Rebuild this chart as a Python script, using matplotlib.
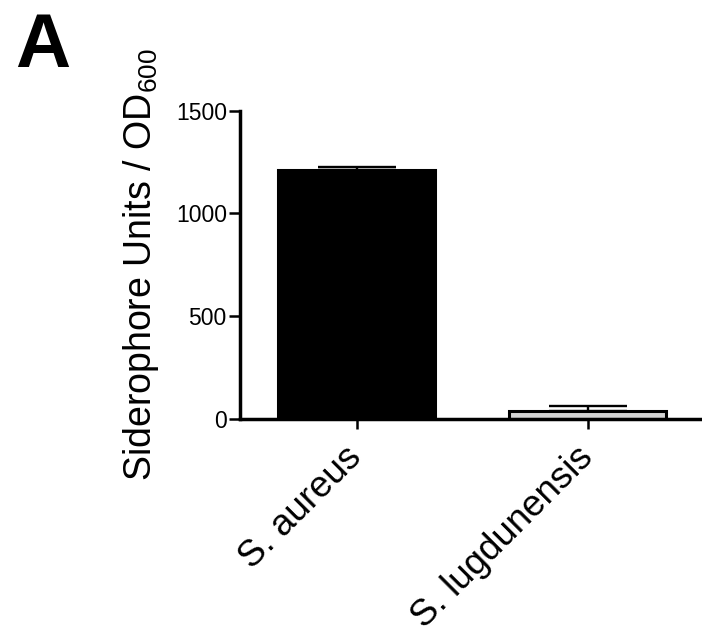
import numpy as np
import matplotlib
matplotlib.use('Agg')
from matplotlib import pyplot as plt

plt.rcParams['font.family'] = ['Liberation Sans', 'DejaVu Sans']
plt.rcParams['mathtext.fontset'] = 'custom'
plt.rcParams['mathtext.rm'] = 'Liberation Sans'
plt.rcParams['mathtext.default'] = 'regular'

# data
strains = ['S. aureus', 'S. lugdunensis']
means = [1210, 37]
errs = [13, 24]
colors = ['black', '#d4d4d4']
yticks = [0, 500, 1000, 1500]

fig = plt.figure(figsize=(7.02, 6.34), dpi=100)
ax = fig.add_axes([240/702, 1 - 418.5/634, 462/702, 308/634])

x = np.arange(len(strains))
ax.bar(x, means, width=0.68, color=colors, edgecolor='black', linewidth=2.2, zorder=2)
ax.errorbar(x, means, yerr=[[0, 0], errs], fmt='none', ecolor='black',
            elinewidth=1.7, capsize=28, capthick=1.7, zorder=3)

ax.set_xlim(-0.506, 1.494)
ax.set_ylim(0, 1500)
ax.set_yticks(yticks)
ax.set_xticks(x)
ax.set_xticklabels(strains, rotation=45, ha='right', va='center',
                   rotation_mode='anchor', fontsize=26.5)
ax.tick_params(axis='y', labelsize=16.5, length=8, width=1.8, pad=1.5)
ax.tick_params(axis='x', length=7, width=1.8, pad=17)

for s in ['top', 'right']:
    ax.spines[s].set_visible(False)
for s in ['left', 'bottom']:
    ax.spines[s].set_linewidth(2.5)

ax.set_ylabel('Siderophore Units / OD$_{600}$', fontsize=27)
ax.yaxis.set_label_coords(-0.17, 0.5)

fig.text(15/702, 1 - 12/634, 'A', fontsize=55, fontweight='bold', ha='left', va='top')

fig.savefig('out.png', dpi=100)
